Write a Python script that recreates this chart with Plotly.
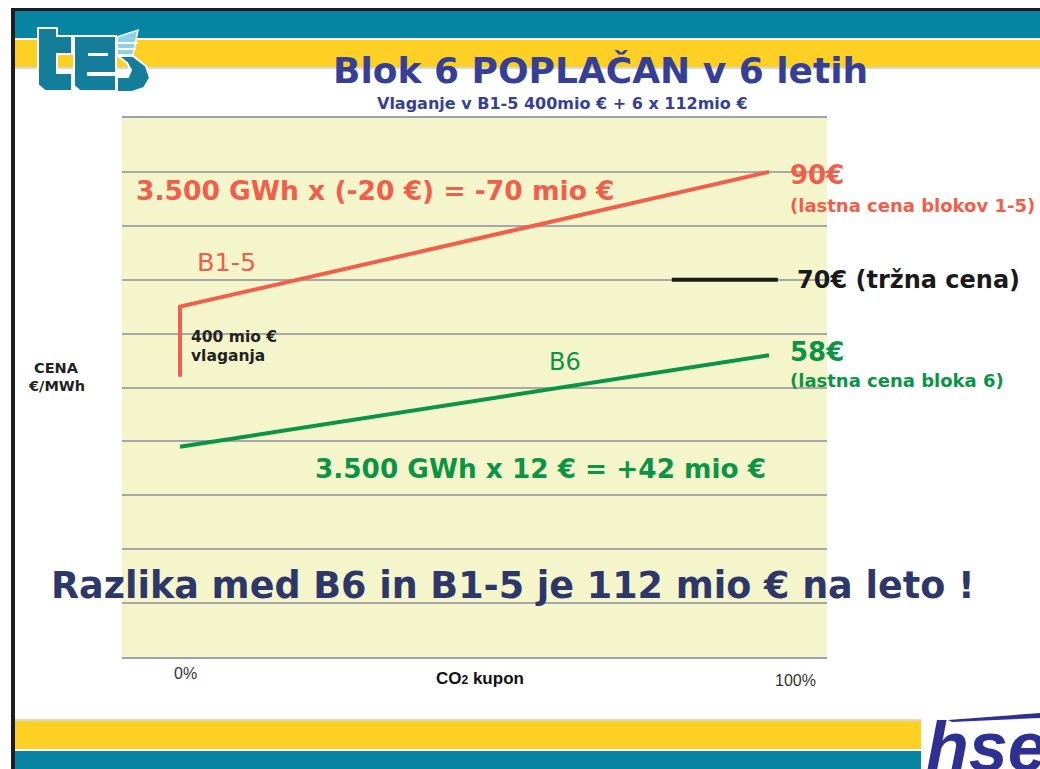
import plotly.graph_objects as go

# ---------------- data ----------------
x_b15 = [0, 0, 100]
y_b15 = [52, 65, 90]
x_b6 = [0, 100]
y_b6 = [39, 56]
x_market = [83.5, 101.5]
y_market = [70, 70]
x_tick_labels = ["0%", "100%"]

# ---------------- geometry helpers ----------------
W, H = 1040, 769
L, R, T, B = 122, 827, 118, 657


def px(x):
    return (x - L) / (R - L)


def py(y):
    return (B - y) / (B - T)


TEAL = "#0785a3"
LOGO_TEAL = "#137d9a"
YELLOW = "#fdd023"
RED = "#f05f4b"
GREEN = "#0b9446"
TITLE_BLUE = "#363f96"
NAVY = "#2e3769"
FONT = "DejaVu Sans"

fig = go.Figure()
fig.add_trace(go.Scatter(x=x_b15, y=y_b15, mode="lines",
                         line=dict(color=RED, width=4), hoverinfo="skip"))
fig.add_trace(go.Scatter(x=x_b6, y=y_b6, mode="lines",
                         line=dict(color=GREEN, width=4), hoverinfo="skip"))
fig.add_trace(go.Scatter(x=x_market, y=y_market, mode="lines",
                         line=dict(color="#1a1a1a", width=4), hoverinfo="skip",
                         cliponaxis=False))

shapes = []


def rect(x0, y0, x1, y1, color, line_color=None, lw=0):
    shapes.append(dict(type="rect", xref="paper", yref="paper",
                       x0=px(x0), x1=px(x1), y0=py(y1), y1=py(y0),
                       fillcolor=color, layer="above",
                       line=dict(width=lw, color=line_color or color)))


def poly(points, color, line_color=None, lw=0):
    d = "M " + " L ".join(f"{px(a):.5f},{py(b):.5f}" for a, b in points) + " Z"
    shapes.append(dict(type="path", xref="paper", yref="paper", path=d,
                       fillcolor=color, layer="above",
                       line=dict(width=lw, color=line_color or color)))


# top bands
rect(14, 10, W, 38, TEAL)
rect(14, 40, W, 67, YELLOW)
rect(14, 67, W, 69, "#d8d8d8")
# bottom bands
rect(14, 719, 921, 721, "#d8d8d8")
rect(14, 721, 921, 749, YELLOW)
rect(14, 751, 921, H, TEAL)
# black frame
rect(11, 8, 15, H, "#1e1e1e")
rect(11, 8, W, 11, "#1e1e1e")

# ---- "tes" logo ----
poly([(38, 28), (57, 28), (57, 36), (72, 36), (72, 54), (57, 54), (57, 73),
      (72, 73), (72, 91), (45, 91), (38, 85)], LOGO_TEAL, "white", 2)
poly([(74, 36), (116, 36), (116, 73), (88, 73), (88, 75), (116, 75),
      (116, 91), (80, 91), (74, 86)], LOGO_TEAL, "white", 2)
rect(88, 53, 108, 56, "white")
poly([(117, 37), (138, 30), (133, 55), (117, 55)], "#8fd1e6", "white", 1.5)
rect(117, 42, 138, 44, "white")
rect(117, 48, 136, 50, "white")
poly([(118, 56), (133, 56), (146, 66), (150, 78), (144, 88), (132, 92),
      (117, 92), (117, 77), (128, 77), (131, 70), (127, 63)], LOGO_TEAL,
     "white", 2)

# ---- "hse" logo ----
poly([(948, 720), (1040, 713), (1040, 718), (952, 722)], "#2e3192")

annotations = []


def text(x, y, s, size, color, bold=True, xanchor="left", family=FONT,
         yanchor="middle", **kw):
    annotations.append(dict(
        xref="paper", yref="paper", x=px(x), y=py(y), text=s,
        showarrow=False, xanchor=xanchor, yanchor=yanchor,
        font=dict(family=family, size=size, color=color,
                  weight="bold" if bold else "normal", **kw)))


text(600, 70, "Blok 6 POPLAČAN v 6 letih", 36, TITLE_BLUE, xanchor="center")
text(562, 103, "Vlaganje v B1-5 400mio € + 6 x 112mio €", 16, TITLE_BLUE,
     xanchor="center")

text(134, 190, "3.500 GWh x (-20 €) = -70 mio €", 26.5, RED)
text(195, 262, "B1-5", 25.5, RED, bold=False)
text(189, 337, "400 mio €", 15.5, "#222222")
text(189, 356, "vlaganja", 15.5, "#222222")
text(547, 362, "B6", 24, GREEN, bold=False)
text(313, 469, "3.500 GWh x 12 € = +42 mio €", 26.3, GREEN)
text(513, 585, "Razlika med B6 in B1-5 je 112 mio € na leto !", 36.5, NAVY,
     xanchor="center")

text(788, 175, "90€", 26, RED)
text(788, 205, "(lastna cena blokov 1-5)", 18, RED)
text(795, 280, "70€ (tržna cena)", 24, "#1a1a1a")
text(788, 352, "58€", 26, GREEN)
text(788, 380, "(lastna cena bloka 6)", 18, GREEN)

text(56, 368, "CENA", 14.5, "#222222", xanchor="center")
text(56, 386, "€/MWh", 14.5, "#222222", xanchor="center")

text(185, 673, x_tick_labels[0], 16, "#333333", bold=False,
     xanchor="center", family="Liberation Sans")
text(795, 680, x_tick_labels[1], 16, "#333333", bold=False,
     xanchor="center", family="Liberation Sans")
text(480, 678, "CO<span style='font-size:12px'>2</span> kupon", 17,
     "#111111", xanchor="center", family="Liberation Sans")

text(924, 706, "hse", 70, "#2e3192", yanchor="top",
     family="Liberation Sans", style="italic")

fig.update_layout(
    width=W, height=H,
    margin=dict(l=L, r=W - R, t=T, b=H - B, pad=0),
    paper_bgcolor="white",
    plot_bgcolor="#f5f5cc",
    showlegend=False,
    shapes=shapes,
    annotations=annotations,
    xaxis=dict(range=[-9.85, 109.85], showgrid=False, zeroline=False,
               showticklabels=False, ticks="", fixedrange=True,
               showline=True, mirror=True, linecolor="#a0a0a8",
               linewidth=1.5),
    yaxis=dict(range=[0, 100], dtick=10, showgrid=True,
               gridcolor="#a8a8a8", gridwidth=1.5, zeroline=False,
               showticklabels=False, ticks="", fixedrange=True),
)

fig.write_html(
    "out.html",
    config={"displayModeBar": False},
    post_script="document.body.style.margin='0px';"
                "document.body.style.overflow='hidden';",
)
